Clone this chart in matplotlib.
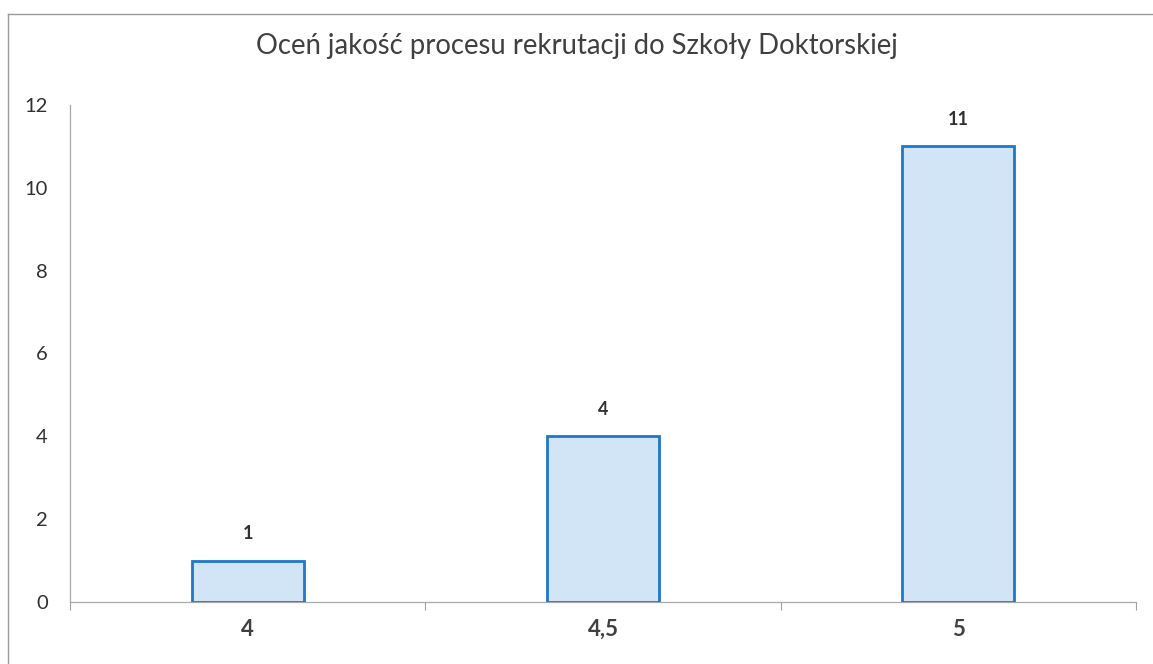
import matplotlib
matplotlib.use("Agg")
import matplotlib.pyplot as plt
from matplotlib.lines import Line2D

# --- data ---
categories = ["4", "4,5", "5"]
counts = [1, 4, 11]
y_ticks = [0, 2, 4, 6, 8, 10, 12]
title = "Oceń jakość procesu rekrutacji do Szkoły Doktorskiej"

plt.rcParams["font.family"] = ["Lato", "DejaVu Sans"]

fig = plt.figure(figsize=(11.53, 6.64), dpi=100)
ax = fig.add_axes([0.0607, 0.0934, 0.9245, 0.7486])

x = list(range(len(categories)))
bars = ax.bar(x, counts, width=0.315, color="#d2e5f6", edgecolor="#1f78c8",
              linewidth=2.0, zorder=3)

for b, v in zip(bars, counts):
    ax.text(b.get_x() + b.get_width() / 2, v + 0.45, str(v), ha="center",
            va="bottom", fontsize=13, fontweight="bold", color="#303030")

ax.set_xlim(-0.5, len(categories) - 0.5)
ax.set_ylim(0, 12)
ax.set_yticks(y_ticks)
ax.set_yticklabels([str(t) for t in y_ticks], fontsize=14.5, color="#303030")
ax.tick_params(axis="y", length=0, pad=16)

ax.set_xticks(x)
ax.set_xticklabels(categories, fontsize=16, fontweight="bold", color="#404040")
ax.tick_params(axis="x", length=0, pad=12)
# category boundary ticks
ax.set_xticks([i - 0.5 for i in range(len(categories) + 1)], minor=True)
ax.tick_params(axis="x", which="minor", length=6, color="#a0a0a0", width=0.8)

for s in ["top", "right"]:
    ax.spines[s].set_visible(False)
for s in ["left", "bottom"]:
    ax.spines[s].set_color("#a8a8a8")
    ax.spines[s].set_linewidth(0.9)

fig.text(0.5, 0.93, title, ha="center", va="center", fontsize=19.8,
         color="#404040")

# outer chart frame (top and left edges visible)
fig.add_artist(Line2D([0.007, 1.0], [0.979, 0.979], transform=fig.transFigure,
                      color="#9a9a9a", linewidth=1.0))
fig.add_artist(Line2D([0.007, 0.007], [0.0, 0.979], transform=fig.transFigure,
                      color="#9a9a9a", linewidth=1.0))

fig.savefig("out.png", dpi=100, facecolor="white")
